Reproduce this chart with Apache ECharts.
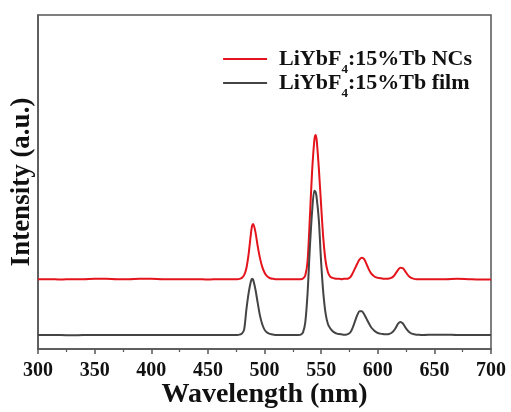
<!DOCTYPE html>
<html>
<head>
<meta charset="utf-8">
<script src="https://cdn.jsdelivr.net/npm/echarts@6/dist/echarts.min.js"></script>
<style>
  html, body { margin: 0; padding: 0; background: #fff; }
  #chart { width: 511px; height: 412px; }
</style>
</head>
<body>
<div id="chart"></div>
<script>
// Emission wavelengths (nm), shared by both spectra
const wavelength = [
  300, 310, 320, 330, 340, 350, 360, 370, 380, 390, 400, 410, 420, 430, 440, 450, 460, 470,
  474, 476, 478, 480, 482, 484, 486, 488, 489, 490, 492, 494, 496, 498, 500, 502, 504, 506, 508, 510, 512,
  516, 520, 524,
  528, 530, 532, 534, 536, 538, 540, 542, 544, 545, 546, 548, 550, 552, 554, 556, 558, 560, 562, 564, 566, 568,
  570, 572, 574, 576, 578, 580, 582, 584, 586, 588, 590, 592, 594, 596, 598, 600, 602, 604, 606, 608,
  610, 612, 614, 616, 618, 620, 622, 624, 626, 628, 630, 632, 634, 636, 638, 640,
  650, 660, 670, 680, 690, 700
];

// Intensity of the nanocrystals (vertically offset trace)
const ncsIntensity = [
  209, 209, 208, 209, 209, 210, 210, 209, 209, 210, 210, 209, 209, 209, 209, 208, 209, 209,
  209, 209, 210, 213, 221, 242, 285, 345, 368, 374, 350, 308, 272, 246, 229, 219, 214, 211, 210, 209, 209,
  209, 209, 209,
  209, 209, 209, 211, 220, 262, 390, 530, 625, 641, 628, 540, 430, 328, 262, 230, 217, 213, 211, 210, 210, 209,
  210, 210, 211, 216, 228, 242, 256, 268, 273, 269, 255, 239, 227, 220, 215, 213, 212, 211, 210, 210,
  211, 213, 218, 227, 237, 243, 242, 234, 224, 216, 212, 210, 209, 209, 209, 209,
  209, 209, 210, 209, 208, 208
];

// Intensity of the film
const filmIntensity = [
  42, 42, 42, 41, 42, 42, 42, 42, 42, 42, 42, 42, 42, 42, 42, 42, 42, 42,
  42, 42, 43, 46, 58, 118, 168, 203, 210, 207, 178, 138, 100, 74, 58, 50, 46, 44, 43, 42, 42,
  42, 42, 42,
  42, 42, 43, 50, 80, 165, 300, 410, 474, 471, 455, 385, 260, 165, 105, 75, 62, 54, 49, 46, 45, 44,
  43, 43, 45, 51, 65, 84, 102, 113, 113, 104, 91, 78, 66, 58, 52, 48, 46, 45, 44, 44,
  45, 48, 54, 64, 76, 81, 77, 67, 57, 50, 46, 44, 43, 43, 42, 42,
  43, 43, 42, 42, 42, 42
];

const seriesNames = ['LiYbF4:15%Tb NCs', 'LiYbF4:15%Tb film'];
const xTicks = [300, 700, 50];

const pairs = arr => wavelength.map((w, i) => [w, arr[i]]);
const serif = '"Liberation Serif", "Times New Roman", serif';

const chart = echarts.init(document.getElementById('chart'), null, { renderer: 'canvas' });
chart.setOption({
  animation: false,
  backgroundColor: '#ffffff',
  grid: {
    left: 38, right: 20, top: 15, bottom: 63,
    outerBoundsMode: 'none',
    containLabel: false,
    show: true, borderColor: '#555555', borderWidth: 1.5, backgroundColor: 'transparent'
  },
  legend: {
    top: 48, right: 39, padding: 0,
    orient: 'vertical',
    icon: 'rect',
    itemWidth: 44, itemHeight: 2, itemGap: -4,
    data: seriesNames,
    formatter: name => {
      const parts = name.split('4');
      return '{a|' + parts[0] + '}{s|4}{a|' + parts.slice(1).join('4') + '}';
    },
    textStyle: {
      padding: [0, 0, 0, 7],
      rich: {
        a: { fontFamily: serif, fontWeight: 'bold', fontSize: 22, color: '#111', lineHeight: 22, verticalAlign: 'bottom' },
        s: { fontFamily: serif, fontWeight: 'bold', fontSize: 13, color: '#111', lineHeight: 22, verticalAlign: 'bottom', padding: [0, 0, -6, 0] }
      }
    }
  },
  xAxis: {
    type: 'value',
    min: xTicks[0], max: xTicks[1], interval: xTicks[2],
    name: 'Wavelength (nm)',
    nameLocation: 'middle', nameGap: 32, nameMoveOverlap: false,
    nameTextStyle: { fontFamily: serif, fontWeight: 'bold', fontSize: 28, color: '#111' },
    axisLine: { show: true, lineStyle: { color: '#555555', width: 1.5 } },
    axisTick: { show: true, inside: false, length: 5, lineStyle: { color: '#555555', width: 1.5 } },
    minorTick: { show: true, splitNumber: 2, length: 3, lineStyle: { color: '#555555', width: 1.2 } },
    axisLabel: { margin: 12, fontFamily: serif, fontWeight: 'bold', fontSize: 20, color: '#111' },
    splitLine: { show: false }
  },
  yAxis: {
    type: 'value',
    min: 0, max: 1000,
    name: 'Intensity (a.u.)',
    nameLocation: 'middle', nameGap: 2, nameMoveOverlap: false,
    nameTextStyle: { fontFamily: serif, fontWeight: 'bold', fontSize: 27, color: '#111' },
    axisLine: { show: true, lineStyle: { color: '#555555', width: 1.5 } },
    axisTick: { show: false },
    axisLabel: { show: false },
    splitLine: { show: false }
  },
  series: [
    {
      name: seriesNames[0], type: 'line', data: pairs(ncsIntensity),
      symbol: 'none', smooth: 0.3,
      lineStyle: { color: '#e3141b', width: 2 }, itemStyle: { color: '#e3141b' }
    },
    {
      name: seriesNames[1], type: 'line', data: pairs(filmIntensity),
      symbol: 'none', smooth: 0.3,
      lineStyle: { color: '#444444', width: 2 }, itemStyle: { color: '#444444' }
    }
  ]
});
</script>
</body>
</html>
